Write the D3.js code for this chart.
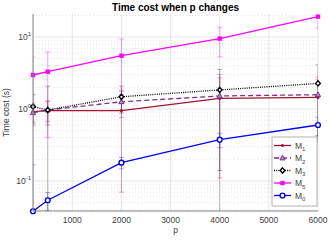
<!DOCTYPE html>
<html>
<head>
<meta charset="utf-8">
<script src="https://cdn.jsdelivr.net/npm/d3@7"></script>
<style>
  body { margin: 0; background: #fff; }
  svg { font-family: "Liberation Sans", Arial, sans-serif; }
</style>
</head>
<body>
<div id="chart"></div>
<script>
// data
const pValues = [200, 500, 2000, 4000, 6000];
const xTicks = [1000, 2000, 3000, 4000, 5000, 6000];
const yTicks = [0.1, 1, 10];

const m1Mean = [0.92, 0.95, 0.95, 1.41, 1.45];
const m1Std  = [0.3, 0.35, 0.88, 1.3, 1.1];
const m2Mean = [0.89, 0.97, 1.26, 1.52, 1.58];
const m2Std  = [0.25, 0.3, 0.5, 1.5, 1.2];
const m3Mean = [1.08, 0.97, 1.48, 1.84, 2.27];
const m3Std  = [0.5, 1.1, 0.6, 1.7, 1.85];
const m5Mean = [2.97, 3.3, 5.5, 9.5, 19.2];
const m5Std  = [2.3, 2.9, 3.9, 4.2, 5.9];
const m0Mean = [0.038, 0.054, 0.18, 0.375, 0.6];
const m0Std  = [0.13, 0.015, 0.033, 0.085, 0.17];

const series = [
    {name: 'M', sub: '1', mean: m1Mean, std: m1Std, color: '#a2142f', err: 'rgba(200,60,90,0.45)', dash: null, marker: 'dot'},
    {name: 'M', sub: '2', mean: m2Mean, std: m2Std, color: '#7e2f8e', err: 'rgba(126,47,142,0.35)', dash: '5,3', marker: 'triangle'},
    {name: 'M', sub: '3', mean: m3Mean, std: m3Std, color: '#000000', err: 'rgba(0,0,0,0.3)', dash: '1,1.2', marker: 'diamond'},
    {name: 'M', sub: '5', mean: m5Mean, std: m5Std, color: '#ff00ff', err: 'rgba(255,0,255,0.4)', dash: null, marker: 'square'},
    {name: 'M', sub: '0', mean: m0Mean, std: m0Std, color: '#0000ff', err: 'rgba(0,0,255,0.35)', dash: null, marker: 'circle'}
];

const W = 330, H = 248;
const margin = {top: 14, right: 12, bottom: 37, left: 33};
const width = W - margin.left - margin.right;
const height = H - margin.top - margin.bottom;

const svg = d3.select('#chart').append('svg')
    .attr('width', W)
    .attr('height', H);

const g = svg.append('g')
    .attr('transform', `translate(${margin.left},${margin.top})`);

let x = d3.scaleLinear().domain([200, 6000]).range([0, width]);
let y = d3.scaleLog().domain([0.0383, 20.9]).range([height, 0]);

g.append('clipPath').attr('id', 'clip')
    .append('rect').attr('width', width).attr('height', height);

// minor grid (dotted)
let minor = [];
[0.01, 0.1, 1, 10].forEach(d => {
    for (let k = 2; k <= 9; k++) {
        let v = d * k;
        if (v > y.domain()[0] && v < y.domain()[1]) minor.push(v);
    }
});
g.selectAll('.minor').data(minor).enter().append('line')
    .attr('x1', 0).attr('x2', width)
    .attr('y1', d => y(d)).attr('y2', d => y(d))
    .attr('stroke', '#d9d9d9')
    .attr('stroke-width', 0.8)
    .attr('stroke-dasharray', '1,2');

// major grid
g.selectAll('.ygrid').data(yTicks).enter().append('line')
    .attr('x1', 0).attr('x2', width)
    .attr('y1', d => y(d)).attr('y2', d => y(d))
    .attr('stroke', '#e6e6e6');
g.selectAll('.xgrid').data(xTicks).enter().append('line')
    .attr('x1', d => x(d)).attr('x2', d => x(d))
    .attr('y1', 0).attr('y2', height)
    .attr('stroke', '#e6e6e6');

const plot = g.append('g').attr('clip-path', 'url(#clip)');

// error bars
series.forEach(s => {
    let eb = plot.append('g');
    pValues.forEach((p, i) => {
        let lo = Math.max(s.mean[i] - s.std[i], 1e-4);
        let hi = s.mean[i] + s.std[i];
        let cx = x(p);
        eb.append('line').attr('x1', cx).attr('x2', cx)
            .attr('y1', y(lo)).attr('y2', y(hi))
            .attr('stroke', s.err).attr('stroke-width', 1);
        [lo, hi].forEach(v => {
            if (v > 1e-4) {
                eb.append('line').attr('x1', cx - 2.5).attr('x2', cx + 2.5)
                    .attr('y1', y(v)).attr('y2', y(v))
                    .attr('stroke', s.err).attr('stroke-width', 1);
            }
        });
    });
});

const line = d3.line().x(d => x(d[0])).y(d => y(d[1]));

function drawMarker(sel, s, cx, cy) {
    if (s.marker === 'dot') {
        sel.append('circle').attr('cx', cx).attr('cy', cy).attr('r', 1.6).attr('fill', s.color);
    } else if (s.marker === 'triangle') {
        sel.append('path').attr('d', `M${cx},${cy - 2.8}L${cx + 2.6},${cy + 1.9}L${cx - 2.6},${cy + 1.9}Z`)
            .attr('fill', '#b48cc0').attr('stroke', s.color).attr('stroke-width', 1);
    } else if (s.marker === 'diamond') {
        sel.append('path').attr('d', `M${cx},${cy - 2.6}L${cx + 2.3},${cy}L${cx},${cy + 2.6}L${cx - 2.3},${cy}Z`)
            .attr('fill', '#fff').attr('stroke', s.color).attr('stroke-width', 1.4);
    } else if (s.marker === 'square') {
        sel.append('rect').attr('x', cx - 2.2).attr('y', cy - 2.2).attr('width', 4.4).attr('height', 4.4)
            .attr('fill', s.color);
    } else {
        sel.append('circle').attr('cx', cx).attr('cy', cy).attr('r', 2.4)
            .attr('fill', '#fff').attr('stroke', s.color).attr('stroke-width', 1.4);
    }
}

series.forEach(s => {
    let pts = pValues.map((p, i) => [p, s.mean[i]]);
    g.append('path').datum(pts)
        .attr('fill', 'none')
        .attr('stroke', s.color)
        .attr('stroke-width', 1.3)
        .attr('stroke-dasharray', s.dash)
        .attr('d', line);
    pts.forEach(d => drawMarker(g, s, x(d[0]), y(d[1])));
});

// axes
g.append('line').attr('x1', 0).attr('x2', width).attr('y1', height).attr('y2', height)
    .attr('stroke', '#808080');
g.append('line').attr('x1', 0).attr('x2', 0).attr('y1', 0).attr('y2', height)
    .attr('stroke', '#808080');

g.selectAll('.xtick').data(xTicks).enter().append('text')
    .attr('x', d => x(d)).attr('y', height + 12)
    .attr('text-anchor', 'middle')
    .attr('font-size', 8.5)
    .attr('fill', '#404040')
    .text(d => d);

let yl = g.selectAll('.ytick').data(yTicks).enter().append('text')
    .attr('x', -2).attr('y', d => y(d) + 3)
    .attr('text-anchor', 'end')
    .attr('font-size', 8.5)
    .attr('fill', '#404040');
yl.append('tspan').text('10');
yl.append('tspan').attr('dy', -4).attr('font-size', 6).text(d => Math.round(Math.log10(d)));

svg.append('text')
    .attr('x', margin.left + width / 2).attr('y', 233)
    .attr('text-anchor', 'middle')
    .attr('font-size', 8.5)
    .attr('fill', '#404040')
    .text('p');

svg.append('text')
    .attr('transform', `translate(9,${margin.top + height / 2}) rotate(-90)`)
    .attr('text-anchor', 'middle')
    .attr('font-size', 8.5)
    .attr('fill', '#404040')
    .text('Time cost (s)');

svg.append('text')
    .attr('x', margin.left + width / 2).attr('y', 10.5)
    .attr('text-anchor', 'middle')
    .attr('font-size', 10)
    .attr('font-weight', 'bold')
    .attr('fill', '#000')
    .text('Time cost when p changes');

// legend
const legend = svg.append('g').attr('transform', 'translate(272,137)');
legend.append('rect')
    .attr('width', 45).attr('height', 69)
    .attr('fill', '#fff')
    .attr('stroke', '#a0a0a0')
    .attr('stroke-width', 0.8);

series.forEach((s, i) => {
    let ly = 8.5 + i * 12.5;
    legend.append('line')
        .attr('x1', 2).attr('x2', 19)
        .attr('y1', ly).attr('y2', ly)
        .attr('stroke', s.color)
        .attr('stroke-width', 1.3)
        .attr('stroke-dasharray', s.dash);
    drawMarker(legend, s, 10.5, ly);
    let t = legend.append('text')
        .attr('x', 23).attr('y', ly + 3)
        .attr('font-size', 8.5)
        .attr('fill', '#404040');
    t.append('tspan').text(s.name);
    t.append('tspan').attr('dy', 2.5).attr('font-size', 6).text(s.sub);
});
</script>
</body>
</html>
